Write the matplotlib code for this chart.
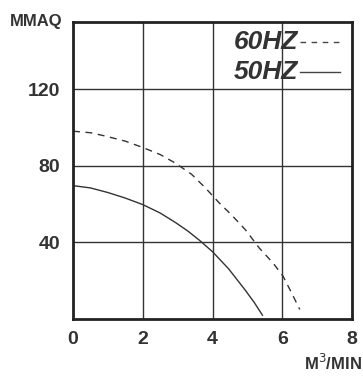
import matplotlib
matplotlib.use("Agg")
import matplotlib.pyplot as plt
import numpy as np

# Data
flow_60 = [0.0, 0.5, 0.92, 1.5, 2.0, 2.5, 2.93, 3.4, 3.79, 4.17, 4.56, 4.95, 5.34, 5.73, 6.02, 6.26, 6.5]
head_60 = [98.0, 97.2, 95.5, 92.8, 89.5, 85.8, 81.4, 75.5, 68.5, 61.0, 54.0, 46.4, 37.0, 29.3, 22.4, 13.8, 5.0]
flow_50 = [0.0, 0.5, 1.0, 1.5, 2.0, 2.5, 2.95, 3.3, 3.63, 4.0, 4.46, 4.94, 5.2, 5.43]
head_50 = [69.6, 68.4, 66.0, 63.1, 59.7, 55.3, 50.2, 45.8, 41.0, 35.1, 26.2, 15.0, 8.5, 2.0]
x_ticks = [0, 2, 4, 6, 8]
y_ticks = [40, 80, 120]
legend_labels = ["60HZ", "50HZ"]

plt.rcParams['font.family'] = ['Liberation Sans', 'DejaVu Sans']

fig = plt.figure(figsize=(3.63, 3.76), dpi=100)
ax = fig.add_axes([0.201, 0.1516, 0.769, 0.79])

ax.plot(flow_60, head_60, color='#333333', lw=1.0, ls=(0, (5, 4)))
ax.plot(flow_50, head_50, color='#333333', lw=1.0)

ax.set_xlim(0, 8)
ax.set_ylim(0, 155)
ax.set_xticks(x_ticks)
ax.set_yticks(y_ticks)
ax.set_xticklabels([str(v) for v in x_ticks], fontsize=14, fontweight='bold', color='#333333')
ax.set_yticklabels([str(v) for v in y_ticks], fontsize=14, fontweight='bold', color='#333333')
ax.tick_params(length=0, pad=9)
ax.tick_params(axis='x', pad=9)
ax.grid(True, color='#333333', lw=1.0)
for s in ax.spines.values():
    s.set_linewidth(2.0)
    s.set_color('#222222')

# legend-like labels
ax.text(0.805, 0.934, legend_labels[0], transform=ax.transAxes, ha='right', va='center',
        fontsize=19, fontweight='bold', style='italic', color='#333333')
ax.text(0.805, 0.833, legend_labels[1], transform=ax.transAxes, ha='right', va='center',
        fontsize=19, fontweight='bold', style='italic', color='#333333')
ax.plot([0.814, 0.957], [0.934, 0.934], transform=ax.transAxes, color='#444444', lw=1.0,
        ls=(0, (4, 4)), clip_on=False)
ax.plot([0.814, 0.957], [0.833, 0.833], transform=ax.transAxes, color='#444444', lw=1.0,
        clip_on=False)

fig.text(0.028, 0.944, "MMAQ", fontsize=12, fontweight='bold', color='#333333', va='center')
fig.text(0.997, 0.035, "M$^3$/MIN", fontsize=12, fontweight='bold', color='#333333',
         va='center', ha='right')

fig.savefig("out.png", dpi=100)
